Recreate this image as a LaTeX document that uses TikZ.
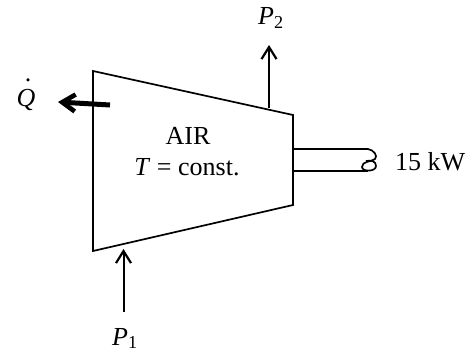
\documentclass[tikz,border=0pt]{standalone}
\usepackage{fontspec}
\setmainfont{Liberation Serif}
\usetikzlibrary{arrows.meta}
\tikzset{
  wall/.style={line width=1.7pt,line join=miter},
  flow/.style={line width=2pt,-{Straight Barb[length=12pt,width=15pt,line width=2.2pt]}},
  heat/.style={line width=5pt,-{Straight Barb[length=13pt,width=17pt,line width=4.6pt]}},
  lab/.style={font=\fontsize{26}{30}\selectfont,inner sep=0pt,anchor=base}
}
\begin{document}
\begin{tikzpicture}[x=1pt,y=-1pt]
  \useasboundingbox (0,0) rectangle (471,352);
  % casing
  \draw[wall] (93,71) -- (293,115) -- (293,205) -- (93,251) -- cycle;
  % shaft
  \draw[wall] (293,149) -- (368,149) .. controls (374,150) and (378,156) .. (375,159)
    .. controls (371,162) and (362,161) .. (362,167) .. controls (362,172) and (376,172) .. (376,166)
    .. controls (376,161) and (371,160) .. (366,161);
  \draw[wall] (293,171) -- (368,171);
  % labels
  \node[lab] (air) at (188,145) {AIR};
  \node[lab] (tconst) at (187,176) {\textit{T} = const.};
  \node[lab,anchor=base west] (power) at (395,171) {15 kW};
  \node[lab,anchor=base west] (pin) at (112,345) {\textit{P}\textsubscript{1}};
  \node[lab,anchor=base west] (pout) at (258,25) {\textit{P}\textsubscript{2}};
  \node[lab] (qdot) at (26,107) {\textit{Q}\llap{\raisebox{25.5pt}{.\kern4pt}}};
  % flows
  \coordinate (pinend) at (123.5,249);
  \coordinate (pinstart) at (123.5,312);
  \coordinate (poutstart) at (269,108);
  \coordinate (poutend) at (269,45);
  \coordinate (qstart) at (110,105);
  \coordinate (qend) at (58,102);
  \draw[flow] (pinstart) -- (pinend);
  \draw[flow] (poutstart) -- (poutend);
  \draw[heat] (qstart) -- (qend);
\end{tikzpicture}
\end{document}
